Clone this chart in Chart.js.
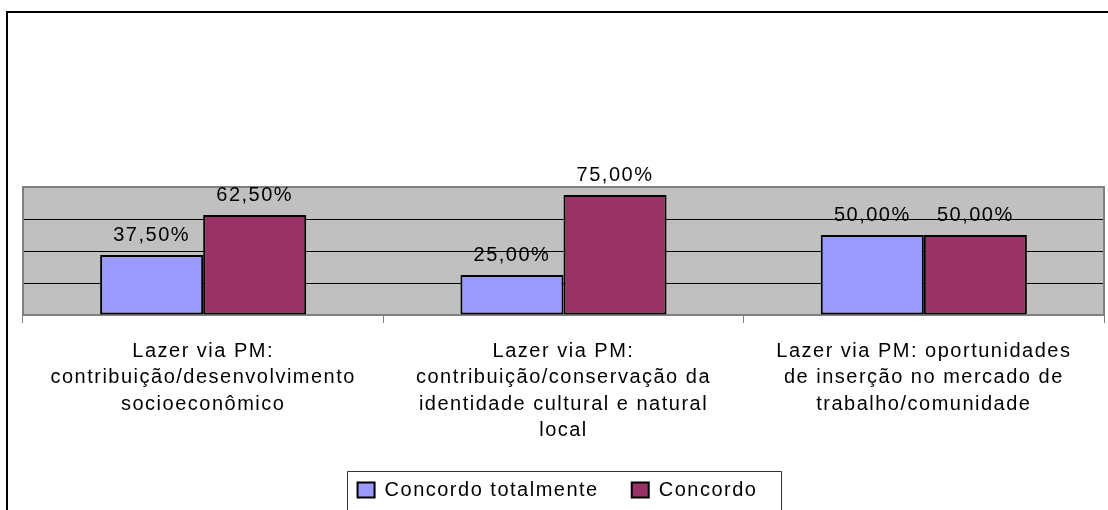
<!DOCTYPE html>
<html>
<head>
<meta charset="utf-8">
<script src="https://cdn.jsdelivr.net/npm/chart.js@4/dist/chart.umd.min.js"></script>
<style>
    html, body { margin: 0; padding: 0; background: #fff; }
    canvas { display: block; }
</style>
</head>
<body>
<canvas id="grafico" width="1108" height="510"></canvas>
<script>
    const categorias = [
        ['Lazer via PM:', 'contribuição/desenvolvimento', 'socioeconômico'],
        ['Lazer via PM:', 'contribuição/conservação da', 'identidade cultural e natural', 'local'],
        ['Lazer via PM: oportunidades', 'de inserção no mercado de', 'trabalho/comunidade']
    ];
    const concordoTotalmente = [37.5, 25, 50];
    const concordo = [62.5, 75, 50];
    const escalaY = { min: 0, max: 80, passo: 20 };

    const fonte = 'Arial, "Liberation Sans", sans-serif';
    const espacamento = '1.5px';

    function formatarPct(v) {
        return v.toFixed(2).replace('.', ',') + '%';
    }

    // letterSpacing is reset whenever the canvas is resized, so set it before measuring and drawing
    const espacoLetras = {
        id: 'espacoLetras',
        beforeLayout(chart) { chart.ctx.letterSpacing = espacamento; },
        beforeDraw(chart) { chart.ctx.letterSpacing = espacamento; }
    };

    const areaGrafico = {
        id: 'areaGrafico',
        afterLayout(chart) {
            // legend sits a bit left of the plot centre
            chart.legend.left -= 6;
            chart.legend.right -= 6;
        },
        beforeDraw(chart) {
            const { ctx, chartArea: a } = chart;
            ctx.save();
            ctx.fillStyle = '#c0c0c0';
            ctx.fillRect(a.left, a.top, a.right - a.left, a.bottom - a.top);
            ctx.restore();
        },
        beforeDatasetsDraw(chart) {
            const { ctx, chartArea: a } = chart;
            ctx.save();
            ctx.strokeStyle = '#808080';
            ctx.lineWidth = 2;
            ctx.strokeRect(a.left, a.top, a.right - a.left, a.bottom - a.top);
            ctx.restore();
        },
        afterDatasetsDraw(chart) {
            const ctx = chart.ctx;
            ctx.save();
            ctx.font = '20px ' + fonte;
            ctx.fillStyle = '#000';
            ctx.textAlign = 'center';
            ctx.textBaseline = 'middle';
            chart.data.datasets.forEach((ds, i) => {
                chart.getDatasetMeta(i).data.forEach((bar, j) => {
                    ctx.fillText(formatarPct(ds.data[j]), bar.x, bar.y - 20);
                });
            });
            ctx.restore();
        },
        afterDraw(chart) {
            const ctx = chart.ctx;
            ctx.save();
            // box around the legend
            const boxes = chart.legend.legendHitBoxes;
            if (boxes && boxes.length) {
                const first = boxes[0];
                const last = boxes[boxes.length - 1];
                const x0 = Math.round(first.left - 11) + 0.5;
                const x1 = Math.round(last.left + last.width + 24) + 0.5;
                const y0 = Math.round(first.top - 9) + 0.5;
                ctx.strokeStyle = '#333';
                ctx.lineWidth = 1;
                ctx.beginPath();
                ctx.moveTo(x0, chart.height + 2);
                ctx.lineTo(x0, y0);
                ctx.lineTo(x1, y0);
                ctx.lineTo(x1, chart.height + 2);
                ctx.stroke();
            }
            // outer frame
            ctx.fillStyle = '#000';
            ctx.fillRect(6, 11, chart.width - 6, 2);
            ctx.fillRect(6, 11, 2, chart.height - 11);
            ctx.restore();
        }
    };

    new Chart(document.getElementById('grafico'), {
        type: 'bar',
        data: {
            labels: categorias,
            datasets: [
                {
                    label: 'Concordo totalmente',
                    data: concordoTotalmente,
                    backgroundColor: '#9999ff',
                    borderColor: '#000',
                    borderWidth: 2,
                    borderSkipped: false
                },
                {
                    label: 'Concordo',
                    data: concordo,
                    backgroundColor: '#993366',
                    borderColor: '#000',
                    borderWidth: 2,
                    borderSkipped: false
                }
            ]
        },
        options: {
            responsive: false,
            animation: false,
            datasets: {
                bar: { categoryPercentage: 0.572, barPercentage: 1.0 }
            },
            layout: {
                padding: { top: 187, left: 23, right: 4, bottom: 0 }
            },
            plugins: {
                tooltip: { enabled: false },
                legend: {
                    position: 'bottom',
                    labels: {
                        boxWidth: 17,
                        boxHeight: 15,
                        padding: 33,
                        color: '#000',
                        font: { family: fonte, size: 20 }
                    }
                }
            },
            scales: {
                x: {
                    afterFit(scale) { scale.height = 132; },
                    border: { display: false },
                    grid: {
                        offset: true,
                        drawOnChartArea: false,
                        drawTicks: true,
                        tickLength: 8,
                        color: '#808080'
                    },
                    ticks: {
                        color: '#000',
                        padding: 15,
                        maxRotation: 0,
                        autoSkip: false,
                        font: { family: fonte, size: 20, lineHeight: 1.325 }
                    }
                },
                y: {
                    min: escalaY.min,
                    max: escalaY.max,
                    afterFit(scale) { scale.width = 0; },
                    border: { display: false },
                    grid: {
                        drawTicks: false,
                        color: ctx => (ctx.tick && ctx.tick.value > escalaY.min && ctx.tick.value < escalaY.max) ? '#000' : 'rgba(0,0,0,0)'
                    },
                    ticks: { display: false, stepSize: escalaY.passo }
                }
            }
        },
        plugins: [espacoLetras, areaGrafico]
    });
</script>
</body>
</html>
